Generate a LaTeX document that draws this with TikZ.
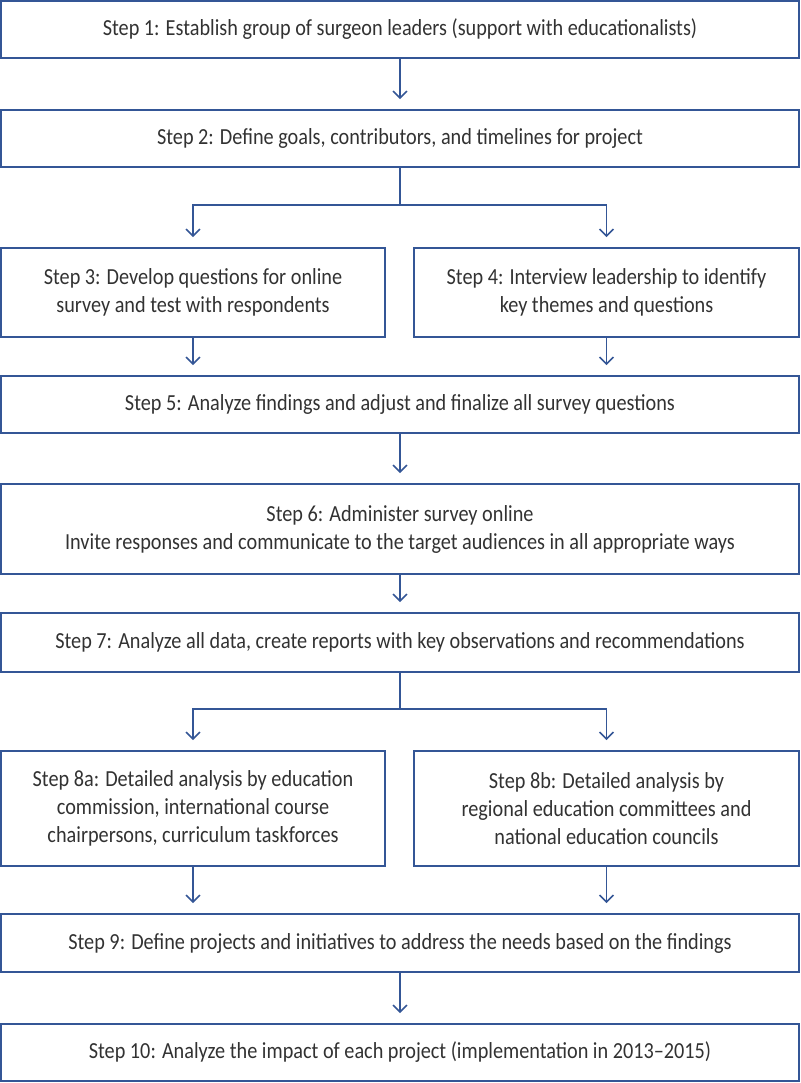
\documentclass[tikz,border=0pt]{standalone}
\usepackage{fontspec}
\setmainfont[FakeStretch=0.88]{Carlito}
\usetikzlibrary{arrows.meta}
\definecolor{boxblue}{RGB}{52,86,150}
\definecolor{txtgray}{RGB}{50,50,50}
\tikzset{
  stepbox/.style={draw=boxblue, line width=1.8pt, rectangle, align=center,
    text=txtgray, inner sep=0pt, font=\fontsize{23}{28}\selectfont},
  arr/.style={draw=boxblue, line width=1.5pt,
    -{Straight Barb[length=7pt,width=14pt,line width=1.5pt]}, shorten >=10pt},
  ln/.style={draw=boxblue, line width=1.5pt}
}
\begin{document}
\begin{tikzpicture}[x=1pt,y=-1pt]
\useasboundingbox (0,0) rectangle (800,1083);
\node[stepbox, minimum width=798pt, minimum height=57pt] (b1) at (400,29.5)
  {Step 1: Establish group of surgeon leaders (support with educationalists)};
\node[stepbox, minimum width=798pt, minimum height=57pt] (b2) at (400,138.5)
  {Step 2: Define goals, contributors, and timelines for project};
\node[stepbox, minimum width=384pt, minimum height=89pt] (b3) at (193,292.5)
  {Step 3: Develop questions for online\\survey and test with respondents};
\node[stepbox, minimum width=385pt, minimum height=89pt] (b4) at (606.5,292.5)
  {Step 4: Interview leadership to identify\\key themes and questions};
\node[stepbox, minimum width=798pt, minimum height=57pt] (b5) at (400,404.5)
  {Step 5: Analyze findings and adjust and finalize all survey questions};
\node[stepbox, minimum width=798pt, minimum height=90pt] (b6) at (400,529)
  {Step 6: Administer survey online\\Invite responses and communicate to the target audiences in all appropriate ways};
\node[stepbox, minimum width=798pt, minimum height=59pt] (b7) at (400,642.5)
  {Step 7: Analyze all data, create reports with key observations and recommendations};
\node[stepbox, minimum width=384pt, minimum height=115pt] (b8a) at (193,808.5)
  {Step 8a: Detailed analysis by education\\commission, international course\\chairpersons, curriculum taskforces};
\node[stepbox, minimum width=385pt, minimum height=115pt] (b8b) at (606.5,808.5)
  {Step 8b: Detailed analysis by\\regional education committees and\\national education councils};
\node[stepbox, minimum width=798pt, minimum height=58pt] (b9) at (400,943)
  {Step 9: Define projects and initiatives to address the needs based on the findings};
\node[stepbox, minimum width=798pt, minimum height=57pt] (b10) at (400,1052.5)
  {Step 10: Analyze the impact of each project (implementation in 2013--2015)};
\coordinate (j1) at (400,205);
\coordinate (j2) at (400,709);
\draw[arr] (b1.south) -- (b2.north);
\draw[ln] (b2.south) -- (j1);
\draw[arr] (j1) -| (b3.north);
\draw[arr] (j1) -| (b4.north);
\draw[arr] (b3.south) -- (b3.south |- b5.north);
\draw[arr] (b4.south) -- (b4.south |- b5.north);
\draw[arr] (b5.south) -- (b6.north);
\draw[arr] (b6.south) -- (b7.north);
\draw[ln] (b7.south) -- (j2);
\draw[arr] (j2) -| (b8a.north);
\draw[arr] (j2) -| (b8b.north);
\draw[arr] (b8a.south) -- (b8a.south |- b9.north);
\draw[arr] (b8b.south) -- (b8b.south |- b9.north);
\draw[arr] (b9.south) -- (b10.north);
\end{tikzpicture}
\end{document}
